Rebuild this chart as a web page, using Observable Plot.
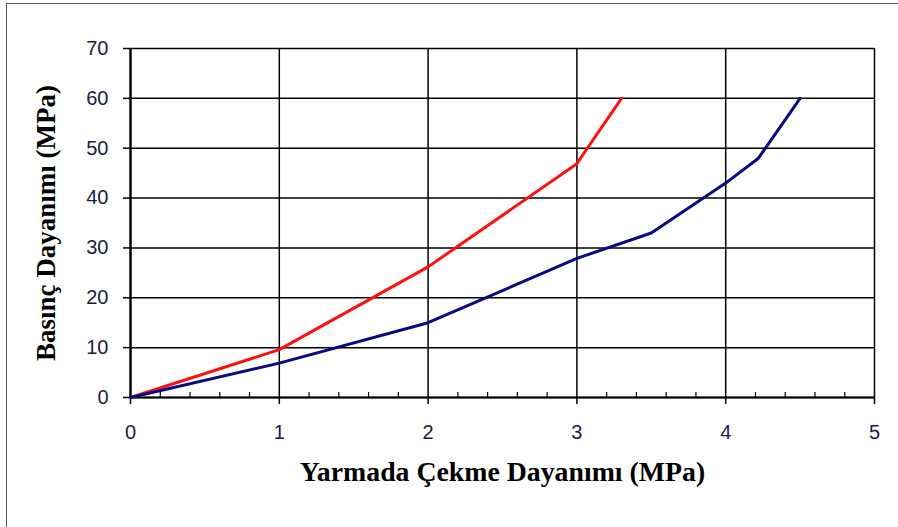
<!DOCTYPE html>
<html>
<head>
<meta charset="utf-8">
<script src="https://cdn.jsdelivr.net/npm/d3@7"></script>
<script src="https://cdn.jsdelivr.net/npm/@observablehq/plot@0.6"></script>
<style>
  html, body { margin: 0; padding: 0; background: #fff; overflow: hidden; }
  #wrap { position: relative; width: 898px; height: 527px; }
  #border { position: absolute; left: 6px; top: 3px; width: 900px; height: 560px; border: 1.5px solid #555; pointer-events: none; box-sizing: border-box; }
</style>
</head>
<body>
<div id="wrap"><div id="border"></div></div>
<script>
// Data
const redX = [0, 1, 2, 3, 3.07, 3.3];
const redY = [0, 9.6, 26.2, 46.9, 50, 60];
const blueX = [0, 1, 2, 3, 3.5, 4, 4.22, 4.5];
const blueY = [0, 6.9, 15, 27.9, 33, 43, 48, 60];
const xTicks = [0, 1, 2, 3, 4, 5];
const xMinor = [0.2,0.4,0.6,0.8,1.2,1.4,1.6,1.8,2.2,2.4,2.6,2.8,3.2,3.4,3.6,3.8,4.2,4.4,4.6,4.8];
const yTicks = [0, 10, 20, 30, 40, 50, 60, 70];
const xTitle = "Yarmada Çekme Dayanımı (MPa)";
const yTitle = "Basınç Dayanımı (MPa)";

const red = redX.map((x, i) => ({x, y: redY[i]}));
const blue = blueX.map((x, i) => ({x, y: blueY[i]}));

const tickColor = "#1c1c40";
const titleFont = "'Liberation Serif', 'Times New Roman', serif";
const chart = Plot.plot({
  width: 898,
  height: 527,
  marginLeft: 130,
  marginRight: 24,
  marginTop: 48,
  marginBottom: 130,
  x: {domain: [0, 5]},
  y: {domain: [0, 70]},
  style: {fontFamily: "'Liberation Sans', Arial, sans-serif", background: "transparent"},
  marks: [
    Plot.gridY(yTicks, {stroke: "#000", strokeOpacity: 1, strokeWidth: 1.5}),
    Plot.gridX(xTicks.filter(d => d > 0), {stroke: "#000", strokeOpacity: 1, strokeWidth: 1.5}),
    Plot.ruleX(xMinor, {stroke: "#000", strokeWidth: 1.2, insetTop: 344}),
    Plot.ruleY([0], {stroke: "#000", strokeWidth: 2}),
    Plot.ruleX([0], {stroke: "#000", strokeWidth: 2.5}),
    Plot.axisY(yTicks, {tickSize: 7, tickPadding: 15, fontSize: 20, color: tickColor, stroke: "#000", strokeWidth: 1.5, tickFormat: d => String(d), label: null}),
    Plot.axisX(xTicks, {tickSize: 7, tickPadding: 20, fontSize: 20, color: tickColor, stroke: "#000", strokeWidth: 1.5, tickFormat: d => String(d), label: null}),
    Plot.line(red, {x: "x", y: "y", stroke: "#ff1010", strokeWidth: 3}),
    Plot.line(blue, {x: "x", y: "y", stroke: "#0a0a80", strokeWidth: 3}),
    Plot.text([xTitle], {frameAnchor: "bottom", textAnchor: "middle", lineAnchor: "middle", dy: 75, text: d => d, fontFamily: titleFont, fontWeight: "bold", fontSize: 27.8, fill: "#000"}),
    Plot.text([yTitle], {frameAnchor: "left", textAnchor: "middle", lineAnchor: "middle", dx: -84, rotate: -90, text: d => d, fontFamily: titleFont, fontWeight: "bold", fontSize: 27, fill: "#000"})
  ]
});
document.getElementById("wrap").prepend(chart);
</script>
</body>
</html>
